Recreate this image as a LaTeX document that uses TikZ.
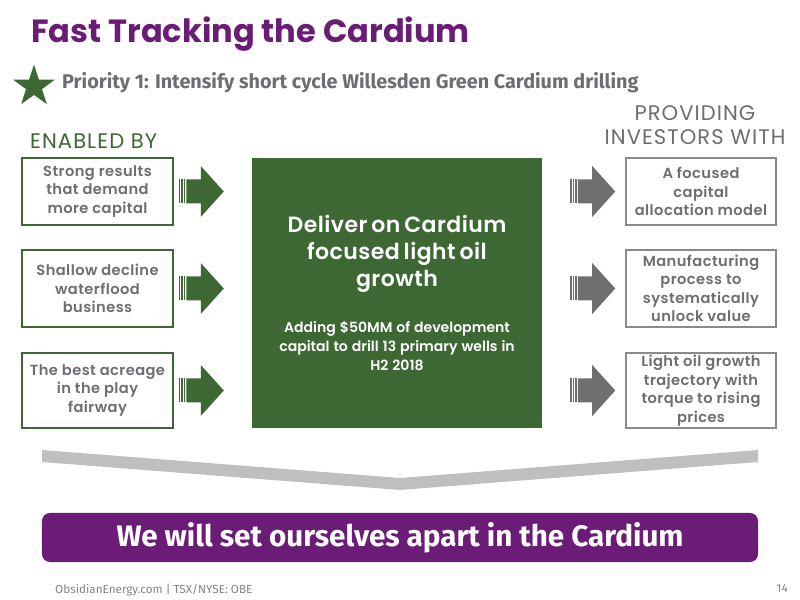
\documentclass[tikz,border=0pt]{standalone}
\usepackage{fontspec}
\setmainfont{Poppins}
\newfontfamily\headfont{Fira Sans}
\newfontfamily\boxfont{Poppins SemiBold}
\usetikzlibrary{calc, positioning, shapes.geometric}

\definecolor{obsgreen}{HTML}{3D6833}
\definecolor{obspurple}{HTML}{6B1C76}
\definecolor{obsgray}{HTML}{6D6E71}
\definecolor{arrowgray}{HTML}{6F6F6F}
\definecolor{boxgray}{HTML}{8A8A8A}
\definecolor{chevgray}{HTML}{BFBFBF}

\tikzset{
  enabler/.style={draw=obsgreen, line width=1.3pt, minimum width=4.53cm,
    text=obsgray, align=center, inner sep=0pt,
    font=\boxfont\fontsize{12.5}{15.8}\selectfont\addfontfeatures{LetterSpace=3}},
  benefit/.style={enabler, draw=boxgray, minimum width=4.5cm},
  heading/.style={font=\fontsize{18}{20.5}\selectfont\addfontfeatures{LetterSpace=5},
    align=center},
  pics/blockarrow/.style={code={
    \foreach \s in {0,2.6,5.2}
      \fill[#1] (\s,-12) rectangle ++(1.5,24);
    \fill[#1] (7.6,-12) -- (22,-12) -- (22,-25.5) -- (45,0)
      -- (22,25.5) -- (22,12) -- (7.6,12) -- cycle;
  }},
}

\begin{document}
\begin{tikzpicture}[x=0.03cm, y=-0.03cm]
  \useasboundingbox[fill=white] (0,0) rectangle (800,600);

  % title and priority line
  \node[anchor=base west, inner sep=0pt, text=obspurple,
    font=\bfseries\fontsize{27.4}{30}\selectfont] (title) at (31,43)
    {Fast Tracking the Cardium};
  \node[star, star points=5, star point ratio=2.6, fill=obsgreen,
    minimum size=1.31cm, inner sep=0pt] (star) at (34,86.5) {};
  \node[anchor=base west, inner sep=0pt, text=obsgray,
    font=\headfont\bfseries\fontsize{16.9}{19}\selectfont] (priority) at (62,89)
    {Priority 1: Intensify short cycle Willesden Green Cardium drilling};

  % column headings
  \node[heading, anchor=base west, inner sep=0pt, text=obsgreen] (enabled) at (30,149)
    {ENABLED BY};
  \node[heading, anchor=base, inner sep=0pt, text=obsgray] (providing) at (695,145)
    {PROVIDING\\INVESTORS WITH};

  % centre box
  \node[fill=obsgreen, minimum width=8.7cm, minimum height=8.1cm, text=white,
    text width=8.4cm, align=center, inner sep=0pt, font=\boxfont] (core) at (397,293)
    {{\fontsize{18.8}{23}\selectfont\addfontfeatures{LetterSpace=2}Deliver on Cardium\\focused light oil\\growth\par}
     \vspace{23pt}
     {\fontsize{12}{16}\selectfont Adding \$50MM of development\\
      capital to drill 13 primary wells in\\H2 2018\par}};

  % rows: enabler -> core -> benefit
  \foreach \n/\y/\h/\ltext/\rtext in {
      1/191.5/2.01cm/{Strong results\\that demand\\more capital}/{A focused\\capital\\allocation model},
      2/288.5/2.31cm/{Shallow decline\\waterflood\\business}/{Manufacturing\\process to\\systematically\\unlock value},
      3/390.5/2.25cm/{The best acreage\\in the play\\fairway}/{Light oil growth\\trajectory with\\torque to rising\\prices}} {
    \node[enabler, minimum height=\h] (l\n) at (97.5,\y) {\ltext};
    \node[benefit, minimum height=\h] (r\n) at (701,\y) {\rtext};
    \pic at ($(l\n.east)+(5,0)$) {blockarrow=obsgreen};
    \pic at ($(r\n.west)+(-55,0)$) {blockarrow=arrowgray};
  }

  % chevron and closing banner
  \fill[chevgray] (42,450) -- (400,478) -- (758,450) -- (758,462)
    -- (400,490) -- (42,462) -- cycle;
  \node[fill=obspurple, rounded corners=0.24cm, minimum width=21.48cm,
    minimum height=1.47cm, text=white,
    font=\headfont\bfseries\fontsize{25.3}{28}\selectfont] (banner) at (400,537.5)
    {We will set ourselves apart in the Cardium};

  % footer
  \node[anchor=base west, inner sep=0pt, text=obsgray!85,
    font=\headfont\fontsize{10}{12}\selectfont] (footer) at (55,594)
    {ObsidianEnergy.com | TSX/NYSE: OBE};
  \node[anchor=base east, inner sep=0pt, text=obsgray!85,
    font=\headfont\fontsize{10}{12}\selectfont] (page) at (788,593) {14};
\end{tikzpicture}
\end{document}
